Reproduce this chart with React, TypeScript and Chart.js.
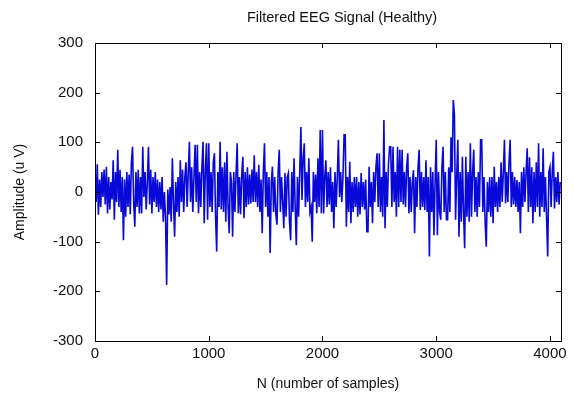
import React, { useEffect, useRef } from "react";
import { Chart, registerables } from "chart.js";

Chart.register(...registerables);

const TITLE = "Filtered EEG Signal (Healthy)";
const X_LABEL = "N (number of samples)";
const Y_LABEL = "Amplitude (u V)";

// sample spacing of the read-off points
const SAMPLE_STEP = 10;
const X_MAX = 4097;
const Y_MIN = -300;
const Y_MAX = 300;
const X_TICKS = [0, 1000, 2000, 3000, 4000];
const Y_TICKS = [-300, -200, -100, 0, 100, 200, 300];

// amplitude (uV), one value every SAMPLE_STEP samples (one row = 100 samples)
const amplitude = [
  30, -20, 56, -46, 25, -30, 40, -10, 45, -25,
  51, -43, 30, -35, 20, -15, 64, -56, 40, -20,
  85, -30, 45, -40, 30, -97, 25, -50, 40, -30,
  35, -45, 60, 91, -20, -70, 40, -30, 45, -43,
  30, -43, 91, -10, 40, -35, 20, 91, -25, 45,
  -43, 30, -20, 40, -30, 25, -40, 20, -35, 30,
  -60, 0, -50, -187, 5, -45, 10, -60, 68, -20,
  -90, 20, -40, 30, -50, 64, -20, 45, -40, 30,
  60, -30, 40, 101, -20, 50, -40, 30, 95, -20,
  95, -43, 40, -30, 50, 101, -63, 45, 98, -56,
  98, -30, 40, -40, 60, 78, -50, -120, 40, -30,
  101, -35, 50, -40, 60, -60, 81, -30, -83, 40,
  20, -90, 40, -40, 35, 98, -43, 30, -45, 35,
  71, -53, 40, -30, 50, -25, 35, -23, 45, -20,
  74, -20, 40, -30, 55, -40, 25, -83, 40, 98,
  -30, 40, -50, 30, -123, 20, 51, -40, 30, -45,
  -66, 40, 85, -40, 30, -20, -73, 38, -50, 30,
  38, -60, -97, 40, -40, 68, -30, -107, 30, -50,
  40, 131, -16, 70, 98, -30, 40, -20, 68, -40,
  -30, -100, 40, -20, 35, -43, 68, -30, 125, -43,
  125, -43, 30, 64, -30, 40, -25, 50, -40, 20,
  -73, 40, -30, 30, 105, -10, 40, -20, 30, 115,
  115, -70, 30, -40, 61, -63, 20, -40, 30, -30,
  30, -50, 20, -45, 38, -30, 20, -35, 25, -80,
  -80, 51, -30, 20, -63, 40, -20, 51, 78, -30,
  78, -40, 30, -50, 145, -73, 40, -30, 55, 91,
  91, -30, 91, -20, 40, -50, 91, -30, 85, -20,
  85, -25, 40, -30, 50, 78, -43, 30, -40, 20,
  44, -83, 30, -30, 50, 85, -36, 40, -30, 30,
  -36, 64, -40, 30, -130, 50, -40, 40, -87, 20,
  105, -87, 40, -40, -56, 50, 91, -40, 40, -56,
  -56, 50, -40, 110, 40, 185, 155, -56, 30, 105,
  -90, 40, -60, 71, -40, -113, 71, -50, 40, -60,
  98, -50, 40, 85, -40, 30, -50, 40, -30, 105,
  105, -40, 30, -60, -110, 20, -40, 30, -50, 30,
  -63, 51, -30, 20, -40, 30, -30, 60, -20, 40,
  105, -23, 40, -20, 60, 105, -30, 40, -25, 30,
  -30, 24, -40, 20, -83, 40, -30, 50, -20, 40,
  88, -40, 70, -30, 50, -63, 40, -40, 60, -30,
  98, -50, 40, -30, 88, -40, 30, -50, -130, 40,
  50, -30, 40, 81, -33, 30, -20, 40, -25, 20,
];

const FONT = "Arial, 'Liberation Sans', sans-serif";

const boxPlugin = {
  id: "matlabBox",
  afterDraw(chart: any) {
    const { ctx, chartArea } = chart;
    const { left, right, top, bottom } = chartArea;
    const xs = chart.scales.x;
    const ys = chart.scales.y;
    ctx.save();
    ctx.strokeStyle = "#000";
    ctx.lineWidth = 1;
    ctx.strokeRect(Math.round(left) + 0.5, Math.round(top) + 0.5, Math.round(right - left), Math.round(bottom - top));
    const tl = 5;
    ctx.beginPath();
    X_TICKS.forEach((v) => {
      const px = Math.round(xs.getPixelForValue(v)) + 0.5;
      ctx.moveTo(px, bottom);
      ctx.lineTo(px, bottom - tl);
      ctx.moveTo(px, top);
      ctx.lineTo(px, top + tl);
    });
    Y_TICKS.forEach((v) => {
      const py = Math.round(ys.getPixelForValue(v)) + 0.5;
      ctx.moveTo(left, py);
      ctx.lineTo(left + tl, py);
      ctx.moveTo(right, py);
      ctx.lineTo(right - tl, py);
    });
    ctx.stroke();

    ctx.fillStyle = "#111";
    ctx.textAlign = "center";
    ctx.textBaseline = "middle";
    const cx = (left + right) / 2;
    ctx.font = `14.5px ${FONT}`;
    ctx.fillText(TITLE, cx + 14, 18);
    ctx.font = `14px ${FONT}`;
    ctx.fillText(X_LABEL, cx, 384);
    ctx.translate(20, (top + bottom) / 2);
    ctx.rotate(-Math.PI / 2);
    ctx.fillText(Y_LABEL, 0, 0);
    ctx.restore();
  },
};

export default function App() {
  const ref = useRef<HTMLCanvasElement | null>(null);
  useEffect(() => {
    if (!ref.current) return;
    const chart = new Chart(ref.current, {
      type: "line",
      data: {
        datasets: [
          {
            data: amplitude.map((v, i) => ({ x: i * SAMPLE_STEP, y: v })),
            borderColor: "#0808d8",
            borderWidth: 1.6,
            pointRadius: 0,
            tension: 0,
            fill: false,
          },
        ],
      },
      options: {
        animation: false,
        responsive: false,
        devicePixelRatio: 1,
        layout: { padding: { left: 0, right: 13, top: 43, bottom: 0 } },
        plugins: { legend: { display: false }, tooltip: { enabled: false }, title: { display: false } },
        scales: {
          x: {
            type: "linear",
            min: 0,
            max: X_MAX,
            grid: { display: false },
            border: { display: false },
            afterBuildTicks: (s: any) => {
              s.ticks = X_TICKS.map((v) => ({ value: v }));
            },
            ticks: {
              includeBounds: false,
              color: "#111",
              font: { family: FONT, size: 15 },
              padding: -4,
              maxRotation: 0,
              autoSkip: false,
              callback: (v: any) => String(v),
            },
            afterFit: (s: any) => {
              s.height = 62;
            },
          },
          y: {
            min: Y_MIN,
            max: Y_MAX,
            grid: { display: false },
            border: { display: false },
            afterBuildTicks: (s: any) => {
              s.ticks = Y_TICKS.map((v) => ({ value: v }));
            },
            ticks: {
              color: "#111",
              font: { family: FONT, size: 15 },
              padding: 4,
              autoSkip: false,
              callback: (v: any) => String(v),
            },
            afterFit: (s: any) => {
              s.width = 95;
            },
          },
        },
      },
      plugins: [boxPlugin],
    });
    return () => chart.destroy();
  }, []);
  return (
    <div style={{ position: "fixed", left: 0, top: 0, width: 574, height: 403, background: "#fff" }}>
      <canvas ref={ref} width={574} height={403} />
    </div>
  );
}
